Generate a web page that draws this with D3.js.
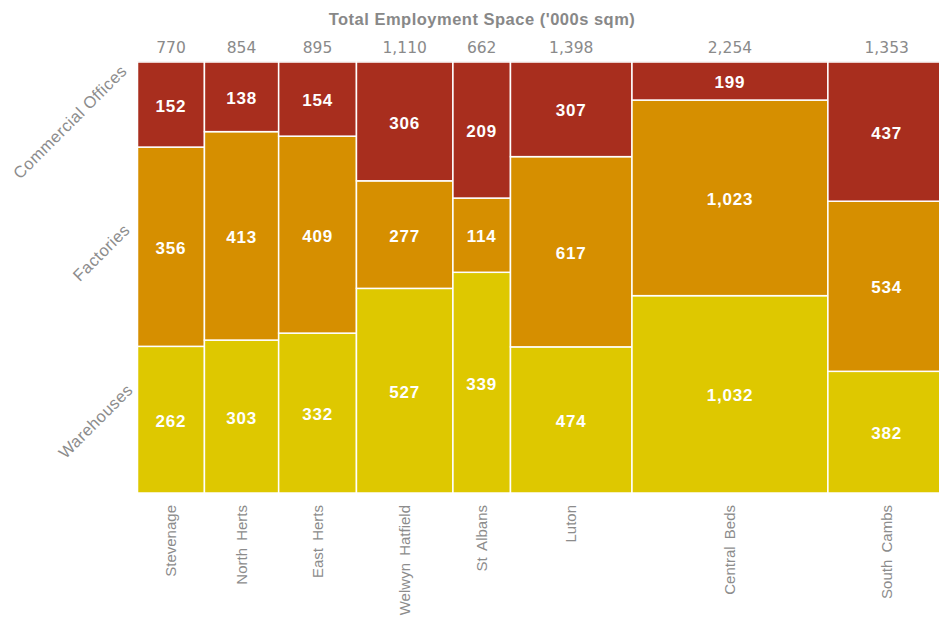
<!DOCTYPE html>
<html>
<head>
<meta charset="utf-8">
<script src="https://cdn.jsdelivr.net/npm/d3@7"></script>
<style>
  html, body { margin: 0; padding: 0; background: #fff; overflow: hidden; }
  svg { display: block; }
</style>
</head>
<body>
<svg id="chart" width="939" height="617"></svg>
<script>
// Employment floorspace by district ('000s sqm)
const districts  = ["Stevenage", "North Herts", "East Herts", "Welwyn Hatfield", "St Albans", "Luton", "Central Beds", "South Cambs"];
const offices    = [152, 138, 154, 306, 209, 307, 199, 437];
const factories  = [356, 413, 409, 277, 114, 617, 1023, 534];
const warehouses = [262, 303, 332, 527, 339, 474, 1032, 382];
const categories = ["Commercial Offices", "Factories", "Warehouses"];
const colors     = ["#a82e1e", "#d68f00", "#dec800"];
const title      = "Total Employment Space ('000s sqm)";

const seriesByCat = { "Commercial Offices": offices, "Factories": factories, "Warehouses": warehouses };

// Build rows for the mosaic
const rows = districts.map((name, i) => {
  const r = { name };
  categories.forEach(c => r[c] = seriesByCat[c][i]);
  r.total = d3.sum(categories, c => r[c]);
  return r;
});
const grand = d3.sum(rows, r => r.total);
let cum = 0;
rows.forEach(r => { r.x0 = cum; cum += r.total; r.x1 = cum; });

const svg = d3.select("#chart");
const plotLeft = 137.5, plotRight = 945.5, plotTop = 62, plotBottom = 493;

const x = d3.scaleLinear().domain([0, grand]).range([plotLeft, plotRight]);
const y = d3.scaleLinear().domain([0, 1]).range([plotBottom, plotTop]);
const color = d3.scaleOrdinal().domain(categories).range(colors);
const fmt = d3.format(",");

// Stack bottom-up: Warehouses, Factories, Commercial Offices
const stackOrder = categories.slice().reverse();
const segments = [];
rows.forEach(r => {
  let acc = 0;
  stackOrder.forEach(c => {
    const f0 = acc / r.total;
    acc += r[c];
    const f1 = acc / r.total;
    segments.push({ row: r, cat: c, value: r[c], f0, f1 });
  });
});

// top border line
svg.append("line")
  .attr("x1", plotLeft).attr("x2", 939)
  .attr("y1", plotTop - 0.5).attr("y2", plotTop - 0.5)
  .attr("stroke", "#d4d4d4").attr("stroke-width", 1);

const g = svg.append("g");
g.selectAll("rect")
  .data(segments)
  .join("rect")
  .attr("x", d => x(d.row.x0))
  .attr("width", d => x(d.row.x1) - x(d.row.x0))
  .attr("y", d => y(d.f1))
  .attr("height", d => y(d.f0) - y(d.f1))
  .attr("fill", d => color(d.cat))
  .attr("stroke", "#fff")
  .attr("stroke-width", 1.5);

// value labels
g.selectAll("text.val")
  .data(segments)
  .join("text")
  .attr("class", "val")
  .attr("x", d => (x(d.row.x0) + x(d.row.x1)) / 2)
  .attr("y", d => (y(d.f0) + y(d.f1)) / 2)
  .attr("dy", "0.42em")
  .attr("text-anchor", "middle")
  .attr("fill", "#fff")
  .style("font-family", "'Liberation Sans', Arial, sans-serif")
  .style("font-weight", "bold")
  .style("font-size", "17px")
  .style("letter-spacing", "0.8px")
  .text(d => fmt(d.value));

// column totals along the top
svg.selectAll("text.total")
  .data(rows)
  .join("text")
  .attr("class", "total")
  .attr("x", d => (x(d.x0) + x(d.x1)) / 2)
  .attr("y", 53)
  .attr("text-anchor", "middle")
  .attr("fill", "#8a8a8a")
  .style("font-family", "'DejaVu Sans', sans-serif")
  .style("font-size", "15.5px")
  .text(d => fmt(d.total));

// title
svg.append("text")
  .attr("x", 482)
  .attr("y", 25)
  .attr("text-anchor", "middle")
  .attr("fill", "#888")
  .style("font-family", "'Liberation Sans', Arial, sans-serif")
  .style("font-weight", "bold")
  .style("font-size", "16.5px")
  .style("letter-spacing", "0.5px")
  .text(title);

// district labels below, rotated
svg.selectAll("text.cat")
  .data(rows)
  .join("text")
  .attr("class", "cat")
  .attr("transform", d => `translate(${(x(d.x0) + x(d.x1)) / 2 + 5},505) rotate(-90)`)
  .attr("text-anchor", "end")
  .attr("fill", "#8c8c8c")
  .style("font-family", "'Liberation Sans', Arial, sans-serif")
  .style("font-size", "15px")
  .style("word-spacing", "3px")
  .text(d => d.name);

// category labels on the left, angled
const catAnchors = [[128, 72], [131, 231], [134, 391]];
svg.selectAll("text.series")
  .data(categories)
  .join("text")
  .attr("class", "series")
  .attr("transform", (d, i) => `translate(${catAnchors[i][0]},${catAnchors[i][1]}) rotate(-45)`)
  .attr("text-anchor", "end")
  .attr("fill", "#8c8c8c")
  .style("font-family", "'Liberation Sans', Arial, sans-serif")
  .style("font-size", "16.5px")
  .style("letter-spacing", "0.5px")
  .text(d => d);
</script>
</body>
</html>
